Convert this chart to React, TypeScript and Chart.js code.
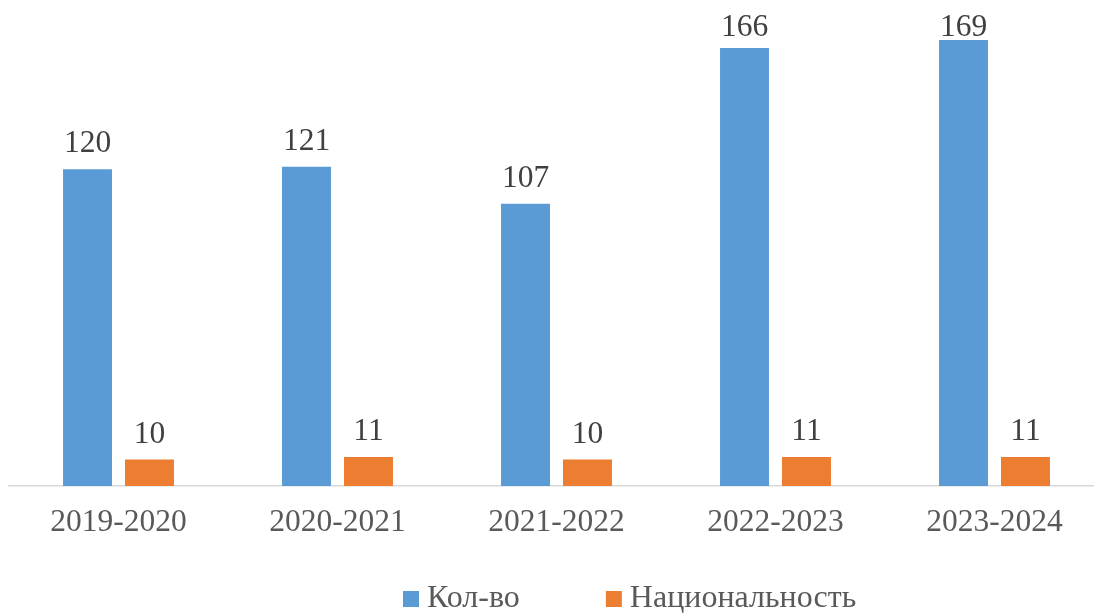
import React, { useEffect, useRef } from "react";
import { Chart, registerables } from "chart.js";

Chart.register(...registerables);

const categories = ["2019-2020", "2020-2021", "2021-2022", "2022-2023", "2023-2024"];
const kolvo = [120, 121, 107, 166, 169];
const nats = [10, 11, 10, 11, 11];
const seriesNames = ["Кол-во", "Национальность"];
const colors = ["#5B9BD5", "#ED7D31"];

const FONT = "'Liberation Serif', 'Times New Roman', serif";

const labelsPlugin = {
  id: "barLabels",
  afterDatasetsDraw(chart: any) {
    const ctx = chart.ctx;
    ctx.save();
    ctx.font = `31.5px ${FONT}`;
    ctx.fillStyle = "#404040";
    ctx.textAlign = "center";
    ctx.textBaseline = "alphabetic";
    chart.data.datasets.forEach((ds: any, i: number) => {
      const meta = chart.getDatasetMeta(i);
      meta.data.forEach((bar: any, j: number) => {
        const y = Math.max(bar.y - 17, 36);
        ctx.fillText(String(ds.data[j]), bar.x, y);
      });
    });
    ctx.restore();
  },
};

const legendPlugin = {
  id: "customLegend",
  afterDraw(chart: any) {
    const ctx = chart.ctx;
    ctx.save();
    ctx.font = `32px ${FONT}`;
    ctx.textBaseline = "alphabetic";
    ctx.textAlign = "left";
    let x = 403;
    const boxTop = 591;
    const baseline = 607;
    seriesNames.forEach((name, i) => {
      ctx.fillStyle = colors[i];
      ctx.fillRect(x, boxTop, 16, 16);
      ctx.fillStyle = "#595959";
      ctx.fillText(name, x + 24, baseline);
      const w = ctx.measureText(name).width;
      x += 24 + w + 86;
    });
    ctx.restore();
  },
};

export default function App() {
  const ref = useRef<HTMLCanvasElement>(null);
  useEffect(() => {
    if (!ref.current) return;
    const chart = new Chart(ref.current, {
      type: "bar",
      data: {
        labels: categories,
        datasets: [
          { label: seriesNames[0], data: kolvo, backgroundColor: colors[0], categoryPercentage: 0.566, barPercentage: 0.79 },
          { label: seriesNames[1], data: nats, backgroundColor: colors[1], categoryPercentage: 0.566, barPercentage: 0.79 },
        ],
      },
      options: {
        animation: false,
        responsive: false,
        layout: { padding: { left: 9, right: 0, top: 11, bottom: 0 } },
        plugins: { legend: { display: false }, tooltip: { enabled: false } },
        scales: {
          x: {
            grid: { display: false, drawTicks: false },
            border: { display: true, color: "#D9D9D9", width: 1.5 },
            ticks: { color: "#595959", font: { family: FONT, size: 31.5 }, padding: 18, maxRotation: 0 },
            afterFit: (scale: any) => { scale.height = 128; },
          },
          y: {
            display: false,
            min: 0,
            max: 180,
          },
        },
      },
      plugins: [labelsPlugin, legendPlugin],
    });
    return () => chart.destroy();
  }, []);
  return (
    <div style={{ position: "fixed", left: 0, top: 0, width: 1094, height: 614, overflow: "hidden", background: "#fff" }}>
      <canvas ref={ref} width={1104} height={614} style={{ width: 1104, height: 614, display: "block" }} />
    </div>
  );
}
